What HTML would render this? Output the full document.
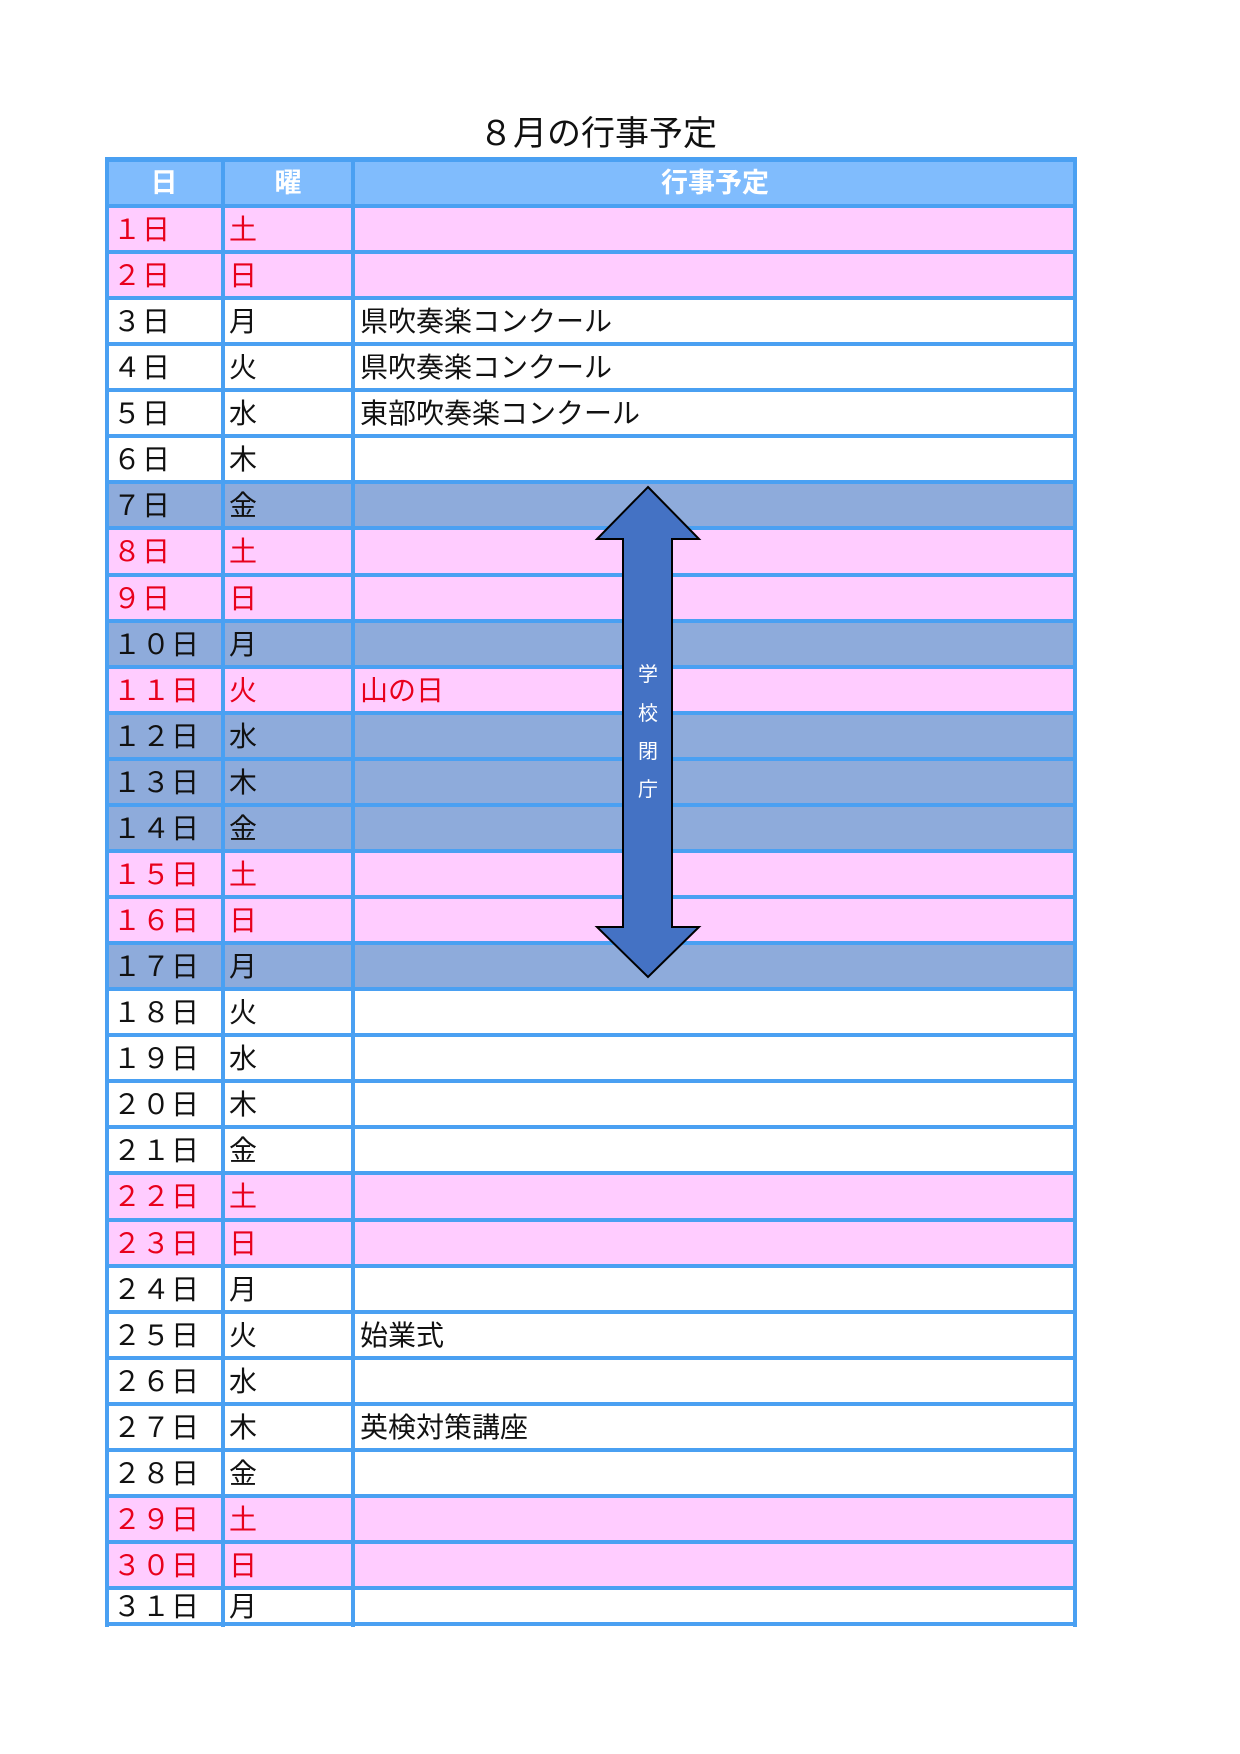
<!DOCTYPE html>
<html><head><meta charset="utf-8"><style>
body{margin:0;width:1240px;height:1754px;background:#fff;position:relative;overflow:hidden;font-family:"Liberation Sans","Noto Sans CJK JP",sans-serif}
.a{position:absolute}
.t{position:absolute;font-size:28px;line-height:46px;white-space:nowrap}
.hl{position:absolute;left:105px;width:972px;height:4px;background:#4aa0f2}
.vl{position:absolute;width:4px;background:#4aa0f2;top:157px;height:1470px}
</style></head><body>
<div class="a" style="left:0;width:1196px;top:112px;text-align:center;font-size:34px;line-height:44px;color:#111">８月の行事予定</div>
<div id="g"></div>
<script>
(function(){
var pink=[1,2,8,9,11,15,16,22,23,29,30],blue=[7,10,12,13,14,17];
var wd=['土','日','月','火','水','木','金'];
var ev={3:'県吹奏楽コンクール',4:'県吹奏楽コンクール',5:'東部吹奏楽コンクール',11:'山の日',25:'始業式',27:'英検対策講座'};
var fw=function(n){return String(n).split('').map(function(c){return String.fromCharCode(c.charCodeAt(0)+0xFEE0)}).join('')};
var h='';
h+='<div class="a" style="left:105px;top:157px;width:972px;height:49px;background:#80bcfd"></div>';
h+='<div class="t" style="left:105px;width:118px;top:160px;text-align:center;color:#fff;font-weight:bold;font-size:27px">日</div>';
h+='<div class="t" style="left:223px;width:130px;top:160px;text-align:center;color:#fff;font-weight:bold;font-size:27px">曜</div>';
h+='<div class="t" style="left:353px;width:724px;top:160px;text-align:center;color:#fff;font-weight:bold;font-size:27px">行事予定</div>';
var R=46.07;
for(var i=1;i<=31;i++){
 var yy=206+(i-1)*R, ht=(i==31?1626-yy:R);
 var bg=pink.indexOf(i)>=0?'#ffccff':(blue.indexOf(i)>=0?'#8eabdb':'#fff');
 var col=pink.indexOf(i)>=0?'#e8001c':'#111';
 h+='<div class="a" style="left:105px;top:'+yy+'px;width:972px;height:'+ht+'px;background:'+bg+'"></div>';
 var ty=yy+(i==31?-4:1);
 h+='<div class="t" style="left:113px;top:'+ty+'px;color:'+col+';letter-spacing:1px">'+fw(i)+'日</div>';
 h+='<div class="t" style="left:229px;top:'+ty+'px;color:'+col+'">'+wd[(i-1)%7]+'</div>';
 if(ev[i])h+='<div class="t" style="left:360px;top:'+ty+'px;color:'+col+'">'+ev[i]+'</div>';
 h+='<div class="hl" style="top:'+(yy-2)+'px"></div>';
}
h+='<div class="hl" style="top:157px;height:5px"></div><div class="hl" style="top:1622px"></div>';
h+='<div class="vl" style="left:105px"></div><div class="vl" style="left:221px"></div><div class="vl" style="left:351px"></div><div class="vl" style="left:1073px"></div>';
h+='<svg class="a" style="left:0;top:0" width="1240" height="1754"><polygon points="648,487 699,539 672,539 672,927 699,927 648,977 597,927 623,927 623,539 597,539" fill="#4472c4" stroke="#000" stroke-width="2"/></svg>';
var cs=['学','校','閉','庁'],ys=[675,714,752,790];
for(var k=0;k<4;k++)h+='<div class="a" style="left:636px;width:24px;text-align:center;top:'+(ys[k]-13)+'px;font-size:20px;line-height:26px;color:#fff">'+cs[k]+'</div>';
document.getElementById('g').innerHTML=h;
})();
</script>
</body></html>
